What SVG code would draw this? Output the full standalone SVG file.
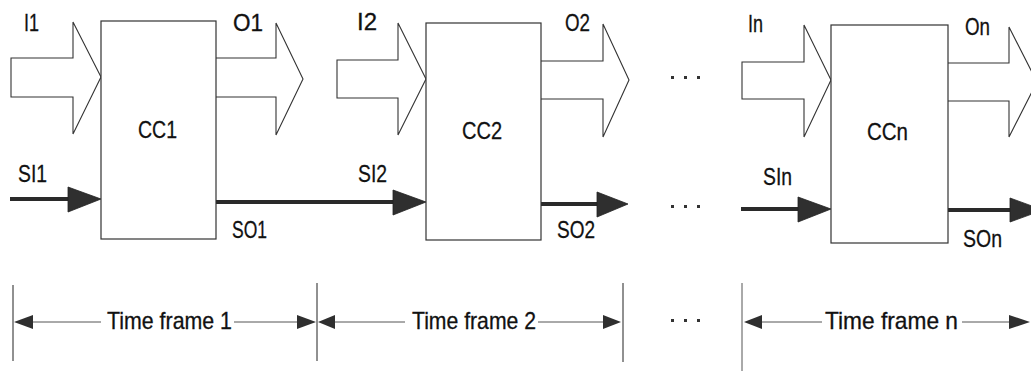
<svg xmlns="http://www.w3.org/2000/svg" width="1031" height="371" viewBox="0 0 1031 371">
<style>
.bg{fill:#fff}
.box{fill:#fff;stroke:#333;stroke-width:1.2}
.big{fill:#fff;stroke:#333;stroke-width:1.1;stroke-linejoin:miter}
.thick{stroke:#2a2a2a;stroke-width:4;fill:none}
.head{fill:#2f2f2f;stroke:#222;stroke-width:0.8}
.thin{stroke:#222;stroke-width:1;fill:none}
.dim{stroke:#555;stroke-width:1;fill:none}
.smallhead{fill:#2f2f2f}
.dot{fill:#333}
text{font-family:"Liberation Sans",Arial,sans-serif;font-size:24px;fill:#111;stroke:#111;stroke-width:0.3}
</style>
<rect class="bg" x="0" y="0" width="1031" height="371"/>
<g id="connectors">
  <polygon class="big" points="11,58 73,58 73,22 101,77 73,134 73,97 11,97"/>
  <path class="big" d="M216,58 L276,58 L276,23 L303,79 L276,135 L276,97 L216,97"/>
  <polygon class="big" points="337,60 398,60 398,23 426,79 398,135 398,98 337,98"/>
  <path class="big" d="M541,61 L603,61 L603,24 L629,80 L603,137 L603,99 L541,99"/>
  <polygon class="big" points="742,62 804,62 804,25 831,80 804,137 804,99 742,99"/>
  <path class="big" d="M948,63 L1009,63 L1009,27 L1037,82 L1009,137 L1009,101 L948,101"/>
  <line class="thick" x1="10" y1="199" x2="70" y2="199"/>
  <polygon class="head" points="68,187 101,199 68,212"/>
  <line class="thick" x1="213" y1="202" x2="395" y2="202"/>
  <polygon class="head" points="393,190 426,202 393,215"/>
  <line class="thick" x1="539" y1="204" x2="599" y2="204"/>
  <polygon class="head" points="597,192 628,204 597,217"/>
  <line class="thick" x1="741" y1="209" x2="800" y2="209"/>
  <polygon class="head" points="798,197 831,209 798,222"/>
  <line class="thick" x1="945" y1="210" x2="1012" y2="210"/>
  <polygon class="head" points="1010,198 1043,210 1010,222"/>
  <line class="thin" x1="13" y1="285" x2="13" y2="361"/>
  <line class="thin" x1="317" y1="283" x2="317" y2="361"/>
  <line class="thin" x1="623" y1="283" x2="623" y2="362"/>
  <line class="dim" x1="742" y1="283" x2="742" y2="371"/>
  <line class="dim" x1="33" y1="322" x2="101" y2="322"/>
  <line class="dim" x1="234" y1="322" x2="299" y2="322"/>
  <polygon class="smallhead" points="14,322 33,315 33,329"/>
  <polygon class="smallhead" points="316,322 297,315 297,329"/>
  <line class="dim" x1="334" y1="322" x2="405" y2="322"/>
  <line class="dim" x1="538" y1="322" x2="604" y2="322"/>
  <polygon class="smallhead" points="318,322 335,315 335,329"/>
  <polygon class="smallhead" points="621,322 603,315 603,329"/>
  <line class="dim" x1="761" y1="322" x2="822" y2="322"/>
  <line class="dim" x1="962" y1="322" x2="1010" y2="322"/>
  <polygon class="smallhead" points="744,322 762,315 762,329"/>
  <polygon class="smallhead" points="1030,322 1009,315 1009,329"/>
</g>
<g id="cc1">
  <rect class="box" x="101" y="21" width="115" height="218"/>
  <text x="138" y="138" textLength="39" lengthAdjust="spacingAndGlyphs">CC1</text>
</g>
<g id="cc2">
  <rect class="box" x="426" y="23" width="115" height="217"/>
  <text x="462" y="139" textLength="40" lengthAdjust="spacingAndGlyphs">CC2</text>
</g>
<g id="ccn">
  <rect class="box" x="831" y="25" width="117" height="218"/>
  <text x="867" y="140" textLength="41" lengthAdjust="spacingAndGlyphs">CCn</text>
</g>
<g id="labels">
  <text x="24" y="31" textLength="15" lengthAdjust="spacingAndGlyphs">I1</text>
  <text x="233" y="31" textLength="30" lengthAdjust="spacingAndGlyphs">O1</text>
  <text x="18" y="182" textLength="29" lengthAdjust="spacingAndGlyphs">SI1</text>
  <text x="232" y="238" textLength="35" lengthAdjust="spacingAndGlyphs">SO1</text>
  <text x="357" y="30" textLength="20" lengthAdjust="spacingAndGlyphs">I2</text>
  <text x="565" y="31" textLength="25" lengthAdjust="spacingAndGlyphs">O2</text>
  <text x="358" y="182" textLength="29" lengthAdjust="spacingAndGlyphs">SI2</text>
  <text x="557" y="238" textLength="38" lengthAdjust="spacingAndGlyphs">SO2</text>
  <text x="748" y="32" textLength="15" lengthAdjust="spacingAndGlyphs">In</text>
  <text x="965" y="35" textLength="25" lengthAdjust="spacingAndGlyphs">On</text>
  <text x="763" y="185" textLength="29" lengthAdjust="spacingAndGlyphs">SIn</text>
  <text x="963" y="247" textLength="39" lengthAdjust="spacingAndGlyphs">SOn</text>
</g>
<g id="dots">
  <rect class="dot" x="671" y="76" width="3" height="3"/>
  <rect class="dot" x="684" y="76" width="3" height="3"/>
  <rect class="dot" x="697" y="76" width="3" height="3"/>
  <rect class="dot" x="671" y="205" width="3" height="3"/>
  <rect class="dot" x="684" y="205" width="3" height="3"/>
  <rect class="dot" x="697" y="205" width="3" height="3"/>
  <rect class="dot" x="671" y="319" width="3" height="3"/>
  <rect class="dot" x="684" y="319" width="3" height="3"/>
  <rect class="dot" x="697" y="319" width="3" height="3"/>
</g>
<g id="timeframes">
  <text x="107" y="329" textLength="125" lengthAdjust="spacingAndGlyphs">Time frame 1</text>
  <text x="412" y="329" textLength="124" lengthAdjust="spacingAndGlyphs">Time frame 2</text>
  <text x="825" y="329" textLength="133" lengthAdjust="spacingAndGlyphs">Time frame n</text>
</g>
</svg>
